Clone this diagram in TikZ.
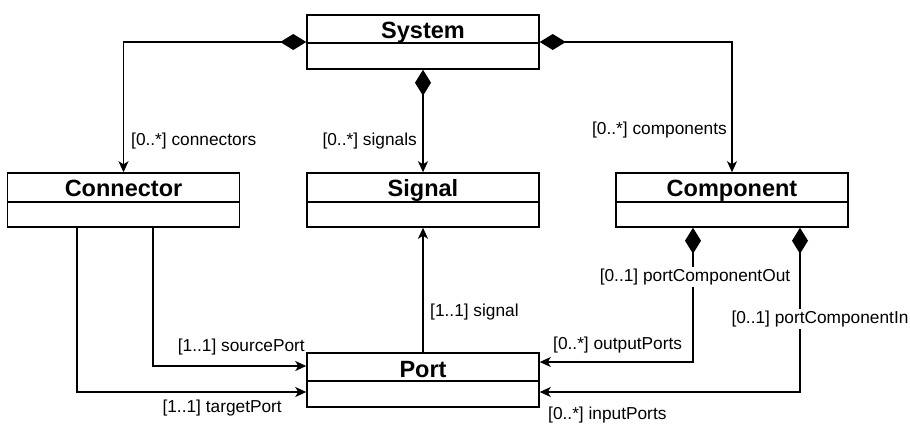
\documentclass[tikz,border=0pt]{standalone}
\usepackage{fontspec}
\setmainfont{Liberation Sans}
\usetikzlibrary{arrows.meta}
\begin{document}
\begin{tikzpicture}[x=1pt,y=-1pt,
  cls/.style={draw,line width=1.5pt,minimum width=232pt,minimum height=54pt,inner sep=0pt},
  title/.style={font=\fontsize{23.5}{26}\selectfont\bfseries,inner sep=0pt,anchor=base},
  lbl/.style={font=\fontsize{17.3}{19}\selectfont,inner sep=0pt},
  onwire/.style={lbl,fill=white,inner sep=2pt},
  wire/.style={line width=1.5pt},
  arr/.style={wire,-{Stealth[length=11pt,width=10pt,inset=3pt]}},
  compo/.style={wire,{Diamond[length=26pt,width=16pt]}-{Stealth[length=11pt,width=10pt,inset=3pt]}}
]
\useasboundingbox[fill=white] (0,0) rectangle (910,426);

% class boxes with a name compartment and an empty attribute compartment
\node[cls] (sys)  at (423,42)   {};
\node[cls] (conn) at (123.5,200) {};
\node[cls] (sig)  at (423,200)  {};
\node[cls] (cmp)  at (732,200)  {};
\node[cls] (port) at (423,380)  {};

\draw[line width=1.5pt] (sys.west |- 0,43)  -- (sys.east |- 0,43);
\draw[line width=1.5pt] (conn.west |- 0,202) -- (conn.east |- 0,202);
\draw[line width=1.5pt] (sig.west |- 0,202) -- (sig.east |- 0,202);
\draw[line width=1.5pt] (cmp.west |- 0,202) -- (cmp.east |- 0,202);
\draw[line width=1.5pt] (port.west |- 0,381) -- (port.east |- 0,381);

\node[title] (sysT)  at (423,38)    {System};
\node[title] (connT) at (123.5,196) {Connector};
\node[title] (sigT)  at (423,196)   {Signal};
\node[title] (cmpT)  at (732,196)   {Component};
\node[title] (portT) at (423,377)   {Port};

% composition from System
\draw[compo] (sys.west) -| (conn.north);
\draw[compo] (sys.east) -| (cmp.north);
\draw[compo] (sys.south) -- (sig.north);

\node[lbl,anchor=west] (lConn) at (131,141) {[0..*] connectors};
\node[lbl,anchor=east] (lSig)  at (417,141) {[0..*] signals};
\node[lbl,anchor=east] (lCmp)  at (727,130) {[0..*] components};

% Connector references to ports
\draw[arr] ([xshift=29.5pt]conn.south) |- ([yshift=14pt]port.west);
\draw[arr] ([xshift=-46.5pt]conn.south) |- ([yshift=-12pt]port.west);
\node[lbl,anchor=east] (lSrc) at (305,347) {[1..1] sourcePort};
\node[lbl,anchor=east] (lTgt) at (282,408) {[1..1] targetPort};

% Port to Signal
\draw[arr] (port.north) -- (sig.south);
\node[lbl,anchor=west] (lPsig) at (430,312) {[1..1] signal};

% Component owns its ports
\draw[compo] ([xshift=-39pt]cmp.south) |- ([yshift=18pt]port.east);
\draw[compo] ([xshift=68pt]cmp.south) |- ([yshift=-12pt]port.east);
\node[onwire] (lOut) at (695,277) {[0..1] portComponentOut};
\node[onwire] (lIn)  at (820,319) {[0..1] portComponentIn};
\node[lbl,anchor=west] (lOutP) at (553,345) {[0..*] outputPorts};
\node[lbl,anchor=west] (lInP)  at (548,415) {[0..*] inputPorts};
\end{tikzpicture}
\end{document}
